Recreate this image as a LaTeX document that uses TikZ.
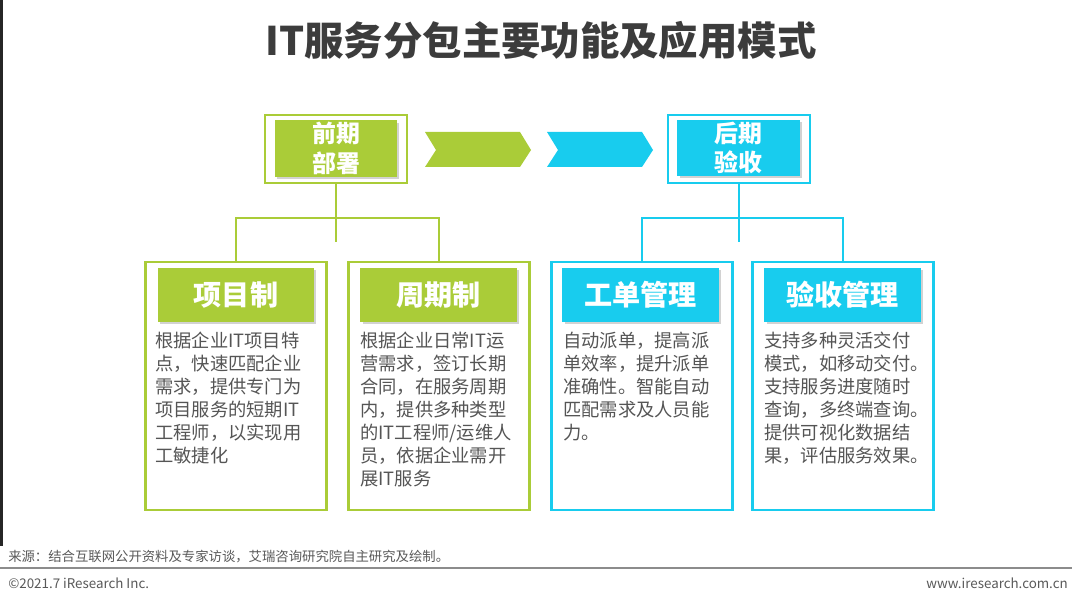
\documentclass[tikz,border=0pt]{standalone}
\usepackage{fontspec}
\setmainfont{Noto Sans CJK SC}
\usetikzlibrary{shadows}
\definecolor{lime}{RGB}{170,204,56}
\definecolor{sky}{RGB}{24,204,238}
\definecolor{ink}{RGB}{60,60,60}
\definecolor{bodytext}{RGB}{85,85,85}

\begin{document}
\begin{tikzpicture}[x=0.025cm,y=-0.025cm,
	outbox/.style={draw=#1,line width=2pt,fill=white,minimum width=4.525cm,minimum height=6.2cm,inner sep=0pt},
	topframe/.style={draw=#1,line width=2pt,fill=white,minimum width=3.55cm,minimum height=1.7cm,inner sep=0pt},
	stagebox/.style={fill=#1,minimum width=3.05cm,minimum height=1.4cm,inner sep=0pt,text=white,align=center,
		font=\fontsize{17}{21}\selectfont\bfseries,
		drop shadow={shadow xshift=1.6pt,shadow yshift=-1.6pt,opacity=0.35}},
	headbox/.style={fill=#1,minimum width=3.9cm,minimum height=1.35cm,inner sep=0pt,text=white,
		font=\fontsize{20}{24}\selectfont\bfseries,
		drop shadow={shadow xshift=1.6pt,shadow yshift=-1.6pt,opacity=0.35}},
	bodytxt/.style={anchor=north west,inner sep=0pt,align=left,text=bodytext,
		font=\fontsize{13}{16.3}\selectfont},
	link/.style={draw=#1,line width=1.8pt}]
	\useasboundingbox[fill=white] (0,0) rectangle (1080,603);
	\fill[black!85] (0,0) rectangle (3,546);
	% Title
	\node[text=ink,font=\fontsize{28}{32}\selectfont\bfseries] (title) at (541,40) {IT服务分包主要功能及应用模式};
	% Two stages on top, with the chevrons between them
	\node[topframe=lime] (pre) at (336,149) {};
	\node[stagebox=lime] (prein) at (336,148.5) {前期\\部署};
	\node[topframe=sky] (post) at (739,149) {};
	\node[stagebox=sky] (postin) at (738.5,148) {后期\\验收};
	\foreach \x/\col in {425/lime, 547/sky}
		\fill[\col] (\x,132) -- ++(95,0) -- ++(11,18) -- ++(-11,17) -- ++(-95,0) -- ++(11,-17) -- cycle;
	% Then the four boxes below
	\foreach \pos/\name/\col in {{(236,386)/b1/lime}, {(439,386)/b2/lime},
	                            {(642,386)/b3/sky}, {(843,386)/b4/sky}}
		\node[outbox=\col] (\name) at \pos {};
	\node[headbox=lime] (h1) at (236,295) {项目制};
	\node[headbox=lime] (h2) at (438.5,295) {周期制};
	\node[headbox=sky] (h3) at (640.5,295) {工单管理};
	\node[headbox=sky] (h4) at (842.5,295) {验收管理};
	\node[bodytxt] (t1) at (155,332) {根据企业IT项目特\\点，快速匹配企业\\需求，提供专门为\\项目服务的短期IT\\工程师，以实现用\\工敏捷化};
	\node[bodytxt] (t2) at (360,332) {根据企业日常IT运\\营需求，签订长期\\合同，在服务周期\\内，提供多种类型\\的IT工程师/运维人\\员，依据企业需开\\展IT服务};
	\node[bodytxt] (t3) at (563,332) {自动派单，提高派\\单效率，提升派单\\准确性。智能自动\\匹配需求及人员能\\力。};
	\node[bodytxt] (t4) at (764,332) {支持多种灵活交付\\模式，如移动交付。\\支持服务进度随时\\查询，多终端查询。\\提供可视化数据结\\果，评估服务效果。};
	% Connectors
	\coordinate (lj) at (336,218);
	\coordinate (lstub) at (336,242);
	\coordinate (rj) at (739,218);
	\coordinate (rstub) at (739,242);
	\path[link=lime] (pre.south) -- (lstub);
	\path[link=lime] (b1.north) |- (lj) -| (b2.north);
	\path[link=sky] (post.south) -- (rstub);
	\path[link=sky] (b3.north) |- (rj) -| (b4.north);
	% Footer
	\node[anchor=west,inner sep=0pt,text=black!65,font=\fontsize{9.5}{11}\selectfont] (src) at (8,557) {来源：结合互联网公开资料及专家访谈，艾瑞咨询研究院自主研究及绘制。};
	\draw[black!45,line width=1pt] (0,568) -- (1072,568);
	\node[anchor=west,inner sep=0pt,text=black!65,font=\fontsize{9.5}{11}\selectfont] (copy) at (8,583) {©2021.7 iResearch Inc.};
	\node[anchor=east,inner sep=0pt,text=black!65,font=\fontsize{9.5}{11}\selectfont] (web) at (1068,583) {www.iresearch.com.cn};
\end{tikzpicture}
\end{document}
